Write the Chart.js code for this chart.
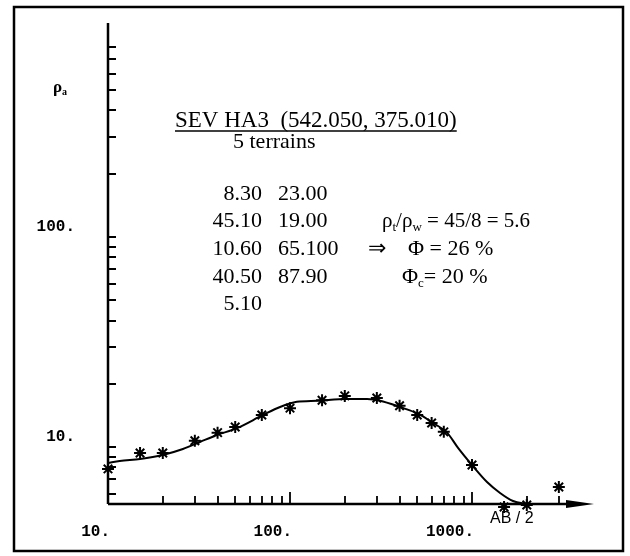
<!DOCTYPE html>
<html>
<head>
<meta charset="utf-8">
<script src="https://cdn.jsdelivr.net/npm/chart.js@4.4.1/dist/chart.umd.min.js"></script>
<style>
html, body { margin: 0; padding: 0; background: #fff; }
canvas { display: block; }
</style>
</head>
<body>
<canvas id="sevChart" width="630" height="556"></canvas>
<script>
// points mesures : AB/2 (m) et resistivite apparente
const abHalf = [10, 15, 20, 30, 40, 50, 70, 100, 150, 200, 300, 400, 500, 600, 700, 1000, 1500, 2000, 3000];
const rhoApp = [7.86, 9.36, 9.36, 10.7, 11.7, 12.45, 14.2, 15.3, 16.7, 17.5, 17.1, 15.7, 14.2, 13.0, 11.8, 8.2, 5.18, 5.29, 6.45];

// courbe calculee du modele
const curveAB = [10, 11.6, 15, 20, 25.8, 32, 39.7, 51.2, 71.1, 88.2, 109, 141, 205, 265, 312, 402, 505, 611, 729, 838, 1000, 1209, 1426, 1680, 2005];
const curveRho = [8.39, 8.58, 8.77, 9.16, 9.78, 10.56, 11.4, 12.3, 14.2, 15.5, 16.4, 16.6, 16.9, 16.9, 16.6, 15.5, 14.4, 13.0, 11.7, 9.9, 8.2, 6.81, 6.04, 5.53, 5.35];

// graduations
const xTicks = [10, 20, 30, 40, 50, 60, 70, 80, 90, 100, 200, 300, 400, 500, 600, 700, 800, 900, 1000, 2000, 3000];
const yTicks = [6, 7, 8, 9, 10, 20, 30, 40, 50, 60, 70, 80, 90, 100, 200, 300, 400, 500, 600, 700, 800];
const xLabelVals = [10, 100, 1000];
const xLabelTxt = ['10.', '100.', '1000.'];
const yLabelVals = [10, 100];
const yLabelTxt = ['10.', '100.'];

// modele a 5 terrains
const layerRho = ['8.30', '45.10', '10.60', '40.50', '5.10'];
const layerThick = ['23.00', '19.00', '65.100', '87.90'];

const tickFont = { family: '"Liberation Mono"', size: 16, weight: 'bold' };

// texte avec indices (ρt, ρw ...)
function drawParts(ctx, parts, x, y, size, family, weight) {
    parts.forEach(p => {
        const s = p.sub ? Math.round(size * 0.6) : size;
        ctx.font = (weight || '') + ' ' + s + 'px ' + family;
        ctx.fillText(p.t, x, p.sub ? y + size * 0.2 : y);
        x += ctx.measureText(p.t).width;
    });
}

const sevDecor = {
    id: 'sevDecor',
    beforeDraw(chart) {
        const ctx = chart.ctx;
        ctx.save();
        ctx.fillStyle = '#fff';
        ctx.fillRect(0, 0, chart.width, chart.height);
        ctx.restore();
    },
    afterDraw(chart) {
        const ctx = chart.ctx;
        const a = chart.chartArea;
        const xs = chart.scales.x;
        const ys = chart.scales.y;
        ctx.save();
        ctx.strokeStyle = '#000';
        ctx.fillStyle = '#000';

        // cadre
        ctx.lineWidth = 2.5;
        ctx.strokeRect(14, 7, 609, 544);

        // axes
        ctx.lineWidth = 2.5;
        ctx.beginPath();
        ctx.moveTo(a.left, a.bottom);
        ctx.lineTo(a.right - 10, a.bottom);
        ctx.moveTo(a.left, a.bottom);
        ctx.lineTo(a.left, a.top);
        ctx.stroke();
        ctx.beginPath();
        ctx.moveTo(a.right - 20, a.bottom - 4);
        ctx.lineTo(a.right + 8, a.bottom);
        ctx.lineTo(a.right - 20, a.bottom + 4);
        ctx.closePath();
        ctx.fill();

        // graduations vers l'interieur
        ctx.lineWidth = 1.8;
        ctx.beginPath();
        xs.ticks.forEach(t => {
            const px = Math.round(xs.getPixelForValue(t.value));
            if (t.value === xs.min) return;
            const len = (t.value === 100 || t.value === 1000) ? 12 : 8;
            ctx.moveTo(px, a.bottom);
            ctx.lineTo(px, a.bottom - len);
        });
        ys.ticks.forEach(t => {
            const py = Math.round(ys.getPixelForValue(t.value));
            ctx.moveTo(a.left, py);
            ctx.lineTo(a.left + 8, py);
        });
        ctx.stroke();

        // titre de l'axe y
        drawParts(ctx, [{ t: 'ρ' }, { t: 'a', sub: true }], 53, 92, 17, '"Liberation Serif"', 'bold');

        // titre de l'axe x
        ctx.font = '16px "Liberation Sans"';
        ctx.fillText('AB / 2', 490, 523);

        // annotations
        const serif = '"Liberation Serif"';
        ctx.font = '23px ' + serif;
        const title = 'SEV HA3  (542.050, 375.010)';
        ctx.fillText(title, 175, 127);
        const w = ctx.measureText(title).width;
        ctx.lineWidth = 1.5;
        ctx.beginPath();
        ctx.moveTo(175, 131);
        ctx.lineTo(175 + w, 131);
        ctx.stroke();
        ctx.font = '22px ' + serif;
        ctx.fillText('5 terrains', 233, 148);

        const rows = [200, 227, 255, 283, 310];
        ctx.textAlign = 'right';
        layerRho.forEach((s, i) => ctx.fillText(s, 262, rows[i]));
        ctx.textAlign = 'left';
        layerThick.forEach((s, i) => ctx.fillText(s, 278, rows[i]));

        drawParts(ctx, [{ t: 'ρ' }, { t: 't', sub: true }, { t: '/ρ' }, { t: 'w', sub: true }, { t: ' = 45/8 = 5.6' }], 382, 227, 21, serif);
        ctx.font = '22px ' + serif;
        ctx.fillText('⇒', 368, 255);
        ctx.fillText('Φ = 26 %', 408, 255);
        drawParts(ctx, [{ t: 'Φ' }, { t: 'c', sub: true }, { t: '= 20 %' }], 402, 283, 22, serif);

        ctx.restore();
    }
};

try {
    const ctx = document.getElementById('sevChart').getContext('2d');
    const sevChart = new Chart(ctx, {
        type: 'scatter',
        data: {
            datasets: [{
                label: 'courbe',
                data: curveAB.map((v, i) => ({ x: v, y: curveRho[i] })),
                showLine: true,
                borderColor: '#000',
                borderWidth: 2,
                pointRadius: 0,
                cubicInterpolationMode: 'monotone',
                clip: false
            }, {
                label: 'mesures',
                data: abHalf.map((v, i) => ({ x: v, y: rhoApp[i] })),
                showLine: false,
                pointStyle: 'star',
                pointRadius: 6,
                borderColor: '#000',
                backgroundColor: '#000',
                pointBorderWidth: 2,
                clip: false
            }]
        },
        options: {
            responsive: false,
            animation: false,
            devicePixelRatio: 1,
            layout: { padding: { left: 0, right: 44, top: 23, bottom: 0 } },
            plugins: {
                legend: { display: false },
                tooltip: { enabled: false }
            },
            scales: {
                x: {
                    type: 'logarithmic',
                    min: 10,
                    max: 4230,
                    grid: { display: false },
                    border: { display: false },
                    afterBuildTicks: s => { s.ticks = xTicks.map(v => ({ value: v })); },
                    afterFit: s => { s.height = 52; s.paddingRight = 0; },
                    ticks: {
                        autoSkip: false,
                        maxRotation: 0,
                        align: 'end',
                        padding: 10,
                        labelOffset: 2,
                        color: '#000',
                        font: tickFont,
                        callback: v => {
                            const k = xLabelVals.indexOf(v);
                            return k >= 0 ? xLabelTxt[k] : '';
                        }
                    }
                },
                y: {
                    type: 'logarithmic',
                    min: 5.35,
                    max: 1044,
                    grid: { display: false },
                    border: { display: false },
                    afterBuildTicks: s => { s.ticks = yTicks.map(v => ({ value: v })); },
                    afterFit: s => { s.width = 108; s.paddingTop = 0; s.paddingBottom = 0; },
                    ticks: {
                        autoSkip: false,
                        padding: 25,
                        labelOffset: -10,
                        color: '#000',
                        font: tickFont,
                        callback: v => {
                            const k = yLabelVals.indexOf(v);
                            return k >= 0 ? yLabelTxt[k] : '';
                        }
                    }
                }
            }
        },
        plugins: [sevDecor]
    });
} catch (error) {
    console.log(error);
}
</script>
</body>
</html>
